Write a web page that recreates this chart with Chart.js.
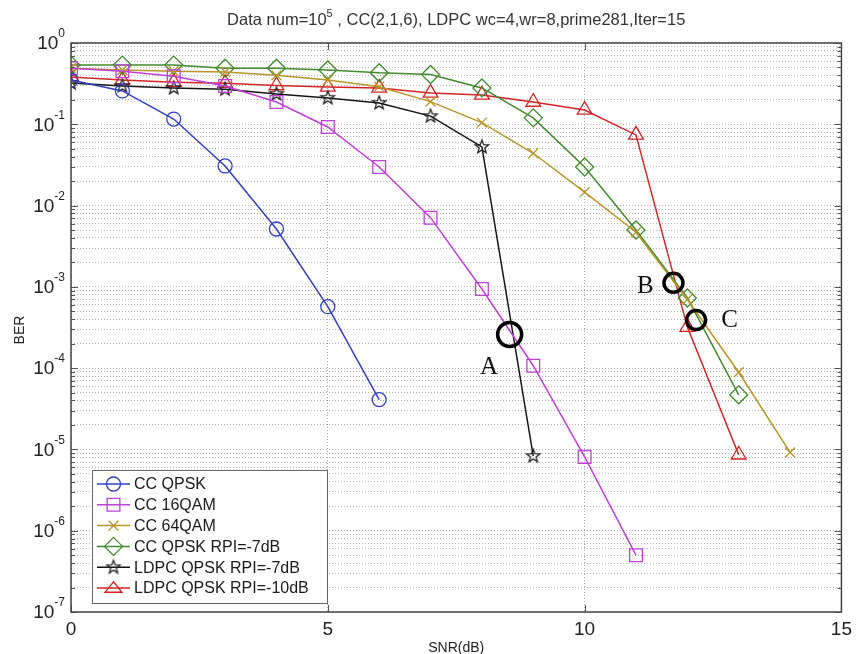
<!DOCTYPE html>
<html>
<head>
<meta charset="utf-8">
<script src="https://cdn.jsdelivr.net/npm/chart.js@4/dist/chart.umd.min.js"></script>
<style>
  html, body { margin: 0; padding: 0; background: #fff; }
  #wrap { width: 858px; height: 654px; }
</style>
</head>
<body>
<div id="wrap"><canvas id="c" width="858" height="654"></canvas></div>
<script>
// BER vs SNR — curvas CC / LDPC.

const SNR = [0, 1, 2, 3, 4, 5, 6, 7, 8, 9, 10, 11, 12, 13, 14];

const CC_QPSK = [0.35, 0.257, 0.116, 0.0307, 0.00515, 5.7e-4, 4.1e-5];
const CC_16QAM = [0.49, 0.45, 0.39, 0.296, 0.188, 0.0926, 0.0298, 0.0071, 9.4e-4, 1.07e-4, 8.1e-6, 5.0e-7];
const CC_64QAM = [0.49, 0.465, 0.45, 0.44, 0.40, 0.35, 0.29, 0.19, 0.105, 0.044, 0.0146, 0.0047, 7.0e-4, 8.9e-5, 9.2e-6];
const CC_QPSK_RPI7 = [0.535, 0.535, 0.535, 0.49, 0.49, 0.466, 0.43, 0.41, 0.28, 0.12, 0.0298, 0.005, 7.3e-4, 4.7e-5];
const LDPC_RPI7 = [0.322, 0.296, 0.28, 0.27, 0.236, 0.211, 0.183, 0.126, 0.0526, 8.3e-6];
const LDPC_RPI10 = [0.382, 0.35, 0.33, 0.32, 0.30, 0.288, 0.28, 0.243, 0.23, 0.188, 0.15, 0.074, 3.2e-4, 8.6e-6];

const X_TICKS = [0, 5, 10, 15];
const Y_DECADES = [0, -1, -2, -3, -4, -5, -6, -7];

// anotaciones: círculos y letras (en coordenadas de datos)
const MARK_CIRCLES = [
  { x: 8.54, y: 2.6e-4, r: 12 },
  { x: 11.73, y: 1.12e-3, r: 9.5 },
  { x: 12.17, y: 3.9e-4, r: 9.5 },
];
const MARK_LETTERS = [
  { t: "A", x: 8.14, y: 1.03e-4 },
  { t: "B", x: 11.18, y: 1.0e-3 },
  { t: "C", x: 12.82, y: 3.9e-4 },
];

const TITLE_A = "Data num=10";
const TITLE_SUP = "5";
const TITLE_B = " , CC(2,1,6), LDPC wc=4,wr=8,prime281,Iter=15";

function starCanvas(color, r) {
  const s = Math.ceil(r * 2 + 4);
  const c = document.createElement("canvas");
  c.width = c.height = s;
  const g = c.getContext("2d");
  g.strokeStyle = color;
  g.lineWidth = 1.3;
  g.beginPath();
  for (let i = 0; i < 10; i++) {
    const a = -Math.PI / 2 + i * Math.PI / 5;
    const rr = i % 2 ? r * 0.42 : r;
    g.lineTo(s / 2 + rr * Math.cos(a), s / 2 + rr * Math.sin(a));
  }
  g.closePath();
  g.stroke();
  return c;
}

const serie = (vals) => vals.map((v, i) => ({ x: SNR[i], y: v }));

const SERIES = [
  { label: "CC QPSK", data: CC_QPSK, color: "#3040c0", point: "circle", r: 7 },
  { label: "CC 16QAM", data: CC_16QAM, color: "#c040dc", point: "rect", r: 9 },
  { label: "CC 64QAM", data: CC_64QAM, color: "#b8962a", point: "crossRot", r: 7 },
  { label: "CC QPSK RPI=-7dB", data: CC_QPSK_RPI7, color: "#438a2e", point: "rectRot", r: 9 },
  { label: "LDPC QPSK RPI=-7dB", data: LDPC_RPI7, color: "#151515", point: null, r: 7 },
  { label: "LDPC QPSK RPI=-10dB", data: LDPC_RPI10, color: "#d42525", point: "triangle", r: 8.5 },
];
SERIES[4].point = starCanvas("#222", 7);

const Y_TICKS = [];
for (let e = -7; e <= 0; e++) {
  for (let m = 1; m <= 9; m++) {
    const v = m * Math.pow(10, e);
    if (v <= 1.0000001) Y_TICKS.push(+v.toPrecision(3));
  }
}

function drawMarker(ctx, s, x, y) {
  ctx.save();
  ctx.strokeStyle = s.color;
  ctx.lineWidth = 1.3;
  const r = s.r;
  ctx.beginPath();
  if (typeof s.point !== "string") {
    ctx.drawImage(s.point, x - s.point.width / 2, y - s.point.height / 2);
    ctx.restore();
    return;
  }
  if (s.point === "circle") ctx.arc(x, y, r, 0, Math.PI * 2);
  else if (s.point === "rect") { const h = r * Math.SQRT1_2; ctx.rect(x - h, y - h, 2 * h, 2 * h); }
  else if (s.point === "rectRot") { ctx.moveTo(x, y - r); ctx.lineTo(x + r, y); ctx.lineTo(x, y + r); ctx.lineTo(x - r, y); ctx.closePath(); }
  else if (s.point === "triangle") {
    ctx.moveTo(x, y - 2 * r / 3 * 1.1); ctx.lineTo(x + r, y + r / 2); ctx.lineTo(x - r, y + r / 2); ctx.closePath();
  } else if (s.point === "crossRot") {
    const h = r * 0.7;
    ctx.moveTo(x - h, y - h); ctx.lineTo(x + h, y + h); ctx.moveTo(x + h, y - h); ctx.lineTo(x - h, y + h);
  }
  ctx.stroke();
  ctx.restore();
}

const decor = {
  id: "decor",
  afterDraw(chart) {
    const { ctx, chartArea: a, scales: { x, y } } = chart;
    ctx.save();

    // ticks interiores
    ctx.strokeStyle = "#555";
    ctx.lineWidth = 1;
    Y_TICKS.forEach(v => {
      const py = Math.round(y.getPixelForValue(v)) + 0.5;
      const major = Math.abs(Math.log10(v) - Math.round(Math.log10(v))) < 1e-6;
      const len = major ? 7 : 4;
      ctx.beginPath();
      ctx.moveTo(a.left, py); ctx.lineTo(a.left + len, py);
      ctx.moveTo(a.right, py); ctx.lineTo(a.right - len, py);
      ctx.stroke();
    });
    X_TICKS.forEach(v => {
      const px = Math.round(x.getPixelForValue(v)) + 0.5;
      ctx.beginPath();
      ctx.moveTo(px, a.bottom); ctx.lineTo(px, a.bottom - 7);
      ctx.moveTo(px, a.top); ctx.lineTo(px, a.top + 7);
      ctx.stroke();
    });

    // marco
    ctx.strokeStyle = "#444";
    ctx.lineWidth = 1.5;
    ctx.strokeRect(a.left, a.top, a.right - a.left, a.bottom - a.top);

    // etiquetas del eje Y con superíndice
    ctx.fillStyle = "#222";
    ctx.textBaseline = "middle";
    Y_DECADES.forEach(e => {
      const py = y.getPixelForValue(Math.pow(10, e));
      const sup = String(e);
      ctx.font = "12px Arial, 'Liberation Sans', sans-serif";
      const wSup = ctx.measureText(sup).width;
      const supX = a.left - 6 - wSup;
      ctx.textAlign = "left";
      ctx.fillText(sup, supX, py - 9);
      ctx.font = "19px Arial, 'Liberation Sans', sans-serif";
      ctx.textAlign = "right";
      ctx.fillText("10", supX, py + 1);
    });

    // títulos de ejes
    ctx.font = "14px Arial, 'Liberation Sans', sans-serif";
    ctx.textAlign = "center";
    ctx.fillText("SNR(dB)", (a.left + a.right) / 2, 648);
    ctx.save();
    ctx.translate(20, 330);
    ctx.rotate(-Math.PI / 2);
    ctx.fillText("BER", 0, 0);
    ctx.restore();

    // título
    const TF = "16.5px Arial, 'Liberation Sans', sans-serif";
    const SF = "11px Arial, 'Liberation Sans', sans-serif";
    ctx.fillStyle = "#333";
    ctx.font = TF;
    const wA = ctx.measureText(TITLE_A).width;
    const wB = ctx.measureText(TITLE_B).width;
    ctx.font = SF;
    const wS = ctx.measureText(TITLE_SUP).width;
    const tx = (a.left + a.right) / 2 - (wA + wB + wS) / 2;
    ctx.textAlign = "left";
    ctx.textBaseline = "alphabetic";
    ctx.font = TF;
    ctx.fillText(TITLE_A, tx, 25);
    ctx.font = SF;
    ctx.fillText(TITLE_SUP, tx + wA, 17);
    ctx.font = TF;
    ctx.fillText(TITLE_B, tx + wA + wS, 25);

    // leyenda
    const lx = 92, ly = 470, lw = 235, lh = 133;
    ctx.fillStyle = "#fff";
    ctx.fillRect(lx, ly, lw, lh);
    ctx.strokeStyle = "#666";
    ctx.lineWidth = 1;
    ctx.strokeRect(lx + 0.5, ly + 0.5, lw, lh);
    ctx.font = "16px Arial, 'Liberation Sans', sans-serif";
    ctx.textBaseline = "middle";
    SERIES.forEach((s, i) => {
      const cy = 484 + i * 20.8;
      ctx.strokeStyle = s.color;
      ctx.lineWidth = 1.5;
      ctx.beginPath();
      ctx.moveTo(97, cy); ctx.lineTo(130, cy);
      ctx.stroke();
      drawMarker(ctx, s, 113.5, cy);
      ctx.fillStyle = "#1a1a1a";
      ctx.fillText(s.label, 134, cy + 1);
    });

    // anotaciones
    ctx.strokeStyle = "#000";
    ctx.lineWidth = 3.5;
    MARK_CIRCLES.forEach(m => {
      ctx.beginPath();
      ctx.arc(x.getPixelForValue(m.x), y.getPixelForValue(m.y), m.r, 0, Math.PI * 2);
      ctx.stroke();
    });
    ctx.fillStyle = "#111";
    ctx.font = "25px 'Liberation Serif', 'DejaVu Serif', serif";
    ctx.textAlign = "center";
    ctx.textBaseline = "middle";
    MARK_LETTERS.forEach(m => {
      ctx.fillText(m.t, x.getPixelForValue(m.x), y.getPixelForValue(m.y));
    });

    ctx.restore();
  },
};

new Chart(document.getElementById("c"), {
  type: "line",
  data: {
    datasets: SERIES.map(s => ({
      label: s.label,
      data: serie(s.data),
      borderColor: s.color,
      backgroundColor: "rgba(0,0,0,0)",
      borderWidth: 1.5,
      pointStyle: s.point,
      pointRadius: s.r,
      pointBorderWidth: 1.3,
      pointBorderColor: s.color,
      pointBackgroundColor: "rgba(0,0,0,0)",
      tension: 0,
      fill: false,
    })),
  },
  options: {
    responsive: false,
    animation: false,
    devicePixelRatio: 1,
    layout: { padding: { top: 43, right: 15, left: 0, bottom: 0 } },
    plugins: { legend: { display: false }, tooltip: { enabled: false } },
    scales: {
      x: {
        type: "linear",
        min: 0, max: 15,
        afterBuildTicks: s => { s.ticks = X_TICKS.map(v => ({ value: v })); },
        afterFit: s => { s.height = 42; },
        ticks: { font: { size: 19, family: "Arial, 'Liberation Sans', sans-serif" }, color: "#222", padding: 6, autoSkip: false, maxRotation: 0 },
        grid: { color: "#aaa", lineWidth: 1, drawTicks: false },
        border: { display: false, dash: [1, 2] },
      },
      y: {
        type: "logarithmic",
        min: 1e-7, max: 1,
        afterBuildTicks: s => { s.ticks = Y_TICKS.map(v => ({ value: v })); },
        afterFit: s => { s.width = 71; },
        ticks: { display: false, autoSkip: false },
        grid: { color: "#b0b0b0", lineWidth: 1, drawTicks: false },
        border: { display: false, dash: [1, 2] },
      },
    },
  },
  plugins: [decor],
});
</script>
</body>
</html>
